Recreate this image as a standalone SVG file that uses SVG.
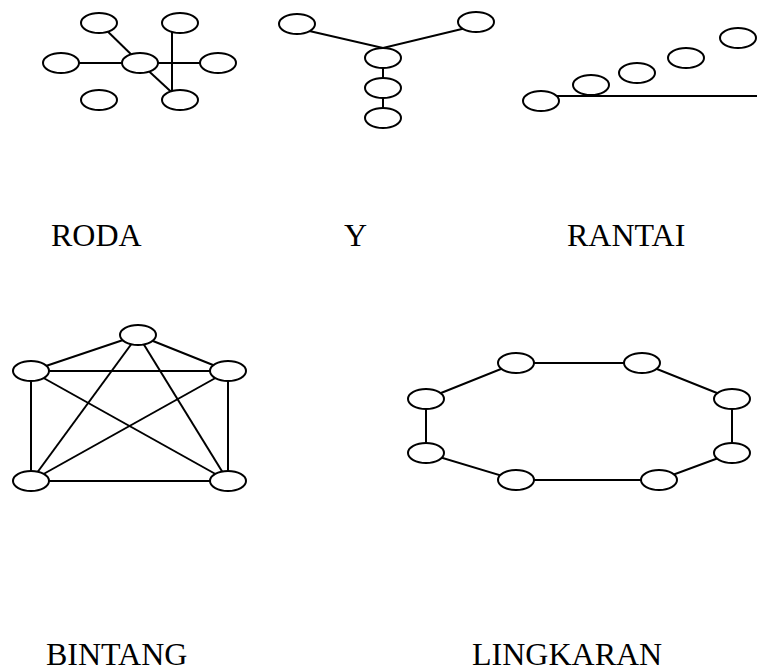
<svg xmlns="http://www.w3.org/2000/svg" width="757" height="672" viewBox="0 0 757 672">
<style>
.e{fill:#fff;stroke:#000;stroke-width:2}
.c line,.c polyline{stroke:#000;stroke-width:2;fill:none}
.t{font-family:"Liberation Serif","Times New Roman",serif;font-size:32px;fill:#000}
</style>
<rect width="757" height="672" fill="#fff"/>
<g id="connectors" class="c">
<!-- RODA -->
<line x1="99" y1="23" x2="140" y2="63"/>
<line x1="61" y1="63" x2="218" y2="63"/>
<line x1="172" y1="25" x2="172" y2="98"/>
<line x1="140" y1="63" x2="180" y2="100"/>
<!-- Y -->
<polyline points="305,30 383,48 466,28"/>
<line x1="383" y1="58" x2="383" y2="118"/>
<!-- RANTAI -->
<line x1="541" y1="96" x2="757" y2="96"/>
<!-- BINTANG -->
<line x1="138" y1="335" x2="31" y2="371"/>
<line x1="138" y1="335" x2="228" y2="371"/>
<line x1="138" y1="335" x2="31" y2="481"/>
<line x1="138" y1="335" x2="228" y2="481"/>
<line x1="31" y1="371" x2="228" y2="371"/>
<line x1="31" y1="371" x2="31" y2="481"/>
<line x1="31" y1="371" x2="228" y2="481"/>
<line x1="228" y1="371" x2="31" y2="481"/>
<line x1="228" y1="371" x2="228" y2="481"/>
<line x1="31" y1="481" x2="228" y2="481"/>
<!-- LINGKARAN -->
<polyline points="516,363 642,363 732,399 732,453 659,480 516,480 426,453 426,399 516,363"/>
</g>
<g id="roda">
<ellipse class="e" cx="99" cy="23" rx="18" ry="10"/>
<ellipse class="e" cx="180" cy="23" rx="18" ry="10"/>
<ellipse class="e" cx="61" cy="63" rx="18" ry="10"/>
<ellipse class="e" cx="140" cy="63" rx="18" ry="10"/>
<ellipse class="e" cx="218" cy="63" rx="18" ry="10"/>
<ellipse class="e" cx="99" cy="100" rx="18" ry="10"/>
<ellipse class="e" cx="180" cy="100" rx="18" ry="10"/>
</g>
<g id="y">
<ellipse class="e" cx="297" cy="24" rx="18" ry="10"/>
<ellipse class="e" cx="476" cy="22" rx="18" ry="10"/>
<ellipse class="e" cx="383" cy="58" rx="18" ry="10"/>
<ellipse class="e" cx="383" cy="88" rx="18" ry="10"/>
<ellipse class="e" cx="383" cy="118" rx="18" ry="10"/>
</g>
<g id="rantai">
<ellipse class="e" cx="541" cy="101" rx="18" ry="10"/>
<ellipse class="e" cx="591" cy="85" rx="18" ry="10"/>
<ellipse class="e" cx="637" cy="73" rx="18" ry="10"/>
<ellipse class="e" cx="686" cy="58" rx="18" ry="10"/>
<ellipse class="e" cx="738" cy="38" rx="18" ry="10"/>
</g>
<g id="bintang">
<ellipse class="e" cx="138" cy="335" rx="18" ry="10"/>
<ellipse class="e" cx="31" cy="371" rx="18" ry="10"/>
<ellipse class="e" cx="228" cy="371" rx="18" ry="10"/>
<ellipse class="e" cx="31" cy="481" rx="18" ry="10"/>
<ellipse class="e" cx="228" cy="481" rx="18" ry="10"/>
</g>
<g id="lingkaran">
<ellipse class="e" cx="516" cy="363" rx="18" ry="10"/>
<ellipse class="e" cx="642" cy="363" rx="18" ry="10"/>
<ellipse class="e" cx="732" cy="399" rx="18" ry="10"/>
<ellipse class="e" cx="732" cy="453" rx="18" ry="10"/>
<ellipse class="e" cx="659" cy="480" rx="18" ry="10"/>
<ellipse class="e" cx="516" cy="480" rx="18" ry="10"/>
<ellipse class="e" cx="426" cy="453" rx="18" ry="10"/>
<ellipse class="e" cx="426" cy="399" rx="18" ry="10"/>
</g>
<g id="labels">
<text class="t" x="51" y="246">RODA</text>
<text class="t" x="344" y="246">Y</text>
<text class="t" x="567" y="246">RANTAI</text>
<text class="t" x="46" y="665">BINTANG</text>
<text class="t" x="472" y="665">LINGKARAN</text>
</g>
</svg>
